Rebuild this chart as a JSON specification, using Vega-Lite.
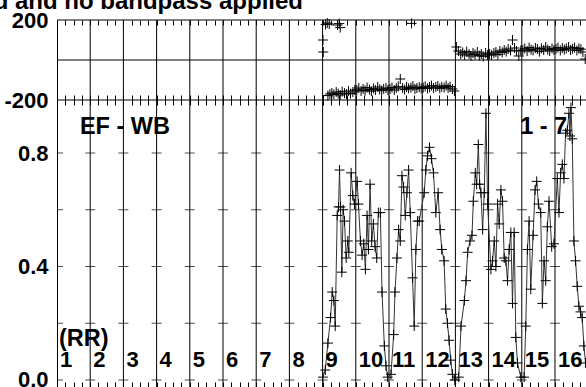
{
"$schema": "https://vega.github.io/schema/vega-lite/v6.json",
"width": 529, "height": 367,
"autosize": {"type": "none"},
"padding": {"left": 57, "top": 20, "right": 0, "bottom": 0},
"background": "white",
"config": {"view": {"stroke": null}, "font": "Liberation Sans",
  "axis": {"labelFont": "Liberation Sans", "labelFontWeight": "bold", "labelFontSize": 22, "labelColor": "black", "domainColor": "black", "domainWidth": 1, "tickColor": "black", "tickWidth": 1, "grid": false, "labelOverlap": false}},
"datasets": {
  "amp": [
    {"x":9.01,"a":0.01},{"x":9.08,"a":0.035},{"x":9.16,"a":0.13},{"x":9.24,"a":0.22},{"x":9.29,"a":0.31},{"x":9.34,"a":0.28},{"x":9.38,"a":0.19},{"x":9.44,"a":0.58},{"x":9.48,"a":0.61},{"x":9.51,"a":0.74},{"x":9.54,"a":0.61},{"x":9.58,"a":0.38},{"x":9.62,"a":0.60},{"x":9.66,"a":0.56},{"x":9.71,"a":0.43},{"x":9.76,"a":0.49},{"x":9.79,"a":0.45},{"x":9.86,"a":0.73},{"x":9.91,"a":0.65},{"x":9.96,"a":0.62},
    {"x":10.04,"a":0.70},{"x":10.08,"a":0.62},{"x":10.14,"a":0.49},{"x":10.19,"a":0.44},{"x":10.24,"a":0.48},{"x":10.29,"a":0.39},{"x":10.34,"a":0.58},{"x":10.38,"a":0.46},{"x":10.43,"a":0.69},{"x":10.48,"a":0.49},{"x":10.53,"a":0.55},{"x":10.58,"a":0.47},{"x":10.63,"a":0.43},{"x":10.68,"a":0.59},{"x":10.74,"a":0.59},{"x":10.79,"a":0.31},{"x":10.86,"a":0.12},{"x":10.91,"a":0.05},{"x":10.96,"a":0.01},
    {"x":11.06,"a":0.02},{"x":11.14,"a":0.16},{"x":11.18,"a":0.31},{"x":11.24,"a":0.43},{"x":11.29,"a":0.53},{"x":11.34,"a":0.49},{"x":11.39,"a":0.72},{"x":11.44,"a":0.68},{"x":11.49,"a":0.58},{"x":11.54,"a":0.66},{"x":11.59,"a":0.74},{"x":11.64,"a":0.59},{"x":11.71,"a":0.36},{"x":11.76,"a":0.19},{"x":11.81,"a":0.46},{"x":11.86,"a":0.56},{"x":11.91,"a":0.56},
    {"x":12.06,"a":0.66},{"x":12.11,"a":0.74},{"x":12.16,"a":0.79},{"x":12.22,"a":0.82},{"x":12.28,"a":0.78},{"x":12.34,"a":0.73},{"x":12.41,"a":0.59},{"x":12.48,"a":0.66},{"x":12.54,"a":0.53},{"x":12.59,"a":0.46},{"x":12.66,"a":0.42},{"x":12.71,"a":0.25},{"x":12.76,"a":0.20},{"x":12.81,"a":0.14},{"x":12.86,"a":0.07},{"x":12.91,"a":0.02},{"x":12.98,"a":0.0},
    {"x":13.10,"a":0.01},{"x":13.17,"a":0.19},{"x":13.27,"a":0.28},{"x":13.32,"a":0.35},{"x":13.37,"a":0.45},{"x":13.44,"a":0.49},{"x":13.50,"a":0.51},{"x":13.54,"a":0.63},{"x":13.60,"a":0.73},{"x":13.64,"a":0.69},{"x":13.69,"a":0.83},{"x":13.73,"a":0.69},{"x":13.77,"a":0.66},{"x":13.82,"a":0.53},{"x":13.87,"a":0.66},{"x":13.92,"a":0.94},{"x":13.97,"a":0.62},
    {"x":14.07,"a":0.39},{"x":14.12,"a":0.42},{"x":14.17,"a":0.49},{"x":14.22,"a":0.40},{"x":14.27,"a":0.62},{"x":14.32,"a":0.55},{"x":14.37,"a":0.67},{"x":14.42,"a":0.63},{"x":14.47,"a":0.43},{"x":14.52,"a":0.42},{"x":14.57,"a":0.35},{"x":14.62,"a":0.46},{"x":14.67,"a":0.52},{"x":14.72,"a":0.27},{"x":14.77,"a":0.52},{"x":14.82,"a":0.15},{"x":14.87,"a":0.06},{"x":14.97,"a":0.01},
    {"x":15.07,"a":0.01},{"x":15.12,"a":0.19},{"x":15.17,"a":0.46},{"x":15.22,"a":0.56},{"x":15.27,"a":0.32},{"x":15.34,"a":0.51},{"x":15.40,"a":0.67},{"x":15.45,"a":0.70},{"x":15.50,"a":0.62},{"x":15.57,"a":0.59},{"x":15.62,"a":0.27},{"x":15.67,"a":0.42},{"x":15.72,"a":0.35},{"x":15.77,"a":0.54},{"x":15.82,"a":0.63},{"x":15.90,"a":0.47},{"x":15.97,"a":0.48},
    {"x":16.07,"a":0.71},{"x":16.12,"a":0.59},{"x":16.17,"a":0.73},{"x":16.22,"a":0.76},{"x":16.27,"a":0.71},{"x":16.32,"a":0.87},{"x":16.37,"a":0.88},{"x":16.42,"a":0.94},{"x":16.45,"a":0.86},{"x":16.48,"a":0.96},{"x":16.52,"a":0.85},{"x":16.57,"a":0.49},{"x":16.62,"a":0.42},{"x":16.67,"a":0.33},{"x":16.72,"a":0.26},{"x":16.77,"a":0.24},{"x":16.82,"a":0.22},{"x":16.87,"a":0.12},{"x":16.92,"a":0.06}
  ],
  "phase": [
    {"x":9.01,"p":100},{"x":9.02,"p":40},{"x":9.09,"p":178},{"x":9.14,"p":185},{"x":9.2,"p":180},{"x":9.45,"p":175},{"x":9.5,"p":182},{"x":9.53,"p":162},{"x":11.68,"p":183},
    {"x":9.16,"p":-178},{"x":9.22,"p":-170},{"x":9.28,"p":-165},{"x":9.34,"p":-172},{"x":9.41,"p":-160},{"x":9.47,"p":-168},{"x":9.53,"p":-175},{"x":9.59,"p":-158},{"x":9.66,"p":-166},{"x":9.72,"p":-170},{"x":9.78,"p":-155},{"x":9.84,"p":-168},{"x":9.91,"p":-160},{"x":9.97,"p":-150},
    {"x":10.03,"p":-150},{"x":10.09,"p":-140},{"x":10.16,"p":-155},{"x":10.22,"p":-145},{"x":10.28,"p":-152},{"x":10.34,"p":-138},{"x":10.41,"p":-148},{"x":10.47,"p":-156},{"x":10.53,"p":-142},{"x":10.59,"p":-150},{"x":10.66,"p":-135},{"x":10.72,"p":-147},{"x":10.78,"p":-153},{"x":10.84,"p":-144},{"x":10.91,"p":-140},{"x":10.97,"p":-150},
    {"x":11.03,"p":-145},{"x":11.09,"p":-138},{"x":11.16,"p":-150},{"x":11.22,"p":-140},{"x":11.28,"p":-132},{"x":11.34,"p":-95},{"x":11.41,"p":-140},{"x":11.47,"p":-148},{"x":11.53,"p":-135},{"x":11.59,"p":-142},{"x":11.66,"p":-138},{"x":11.72,"p":-130},{"x":11.78,"p":-145},{"x":11.84,"p":-140},{"x":11.91,"p":-136},{"x":11.97,"p":-142},
    {"x":12.03,"p":-138},{"x":12.09,"p":-132},{"x":12.16,"p":-142},{"x":12.22,"p":-136},{"x":12.28,"p":-128},{"x":12.34,"p":-140},{"x":12.41,"p":-135},{"x":12.47,"p":-130},{"x":12.53,"p":-142},{"x":12.59,"p":-134},{"x":12.66,"p":-138},{"x":12.72,"p":-128},{"x":12.78,"p":-140},{"x":12.84,"p":-133},{"x":12.91,"p":-145},{"x":12.97,"p":-155},
    {"x":13.03,"p":65},{"x":13.09,"p":45},{"x":13.16,"p":30},{"x":13.22,"p":38},{"x":13.28,"p":25},{"x":13.34,"p":42},{"x":13.41,"p":30},{"x":13.47,"p":20},{"x":13.53,"p":35},{"x":13.59,"p":28},{"x":13.66,"p":40},{"x":13.72,"p":22},{"x":13.78,"p":30},{"x":13.84,"p":18},{"x":13.91,"p":35},{"x":13.97,"p":25},
    {"x":14.03,"p":30},{"x":14.09,"p":25},{"x":14.16,"p":35},{"x":14.22,"p":40},{"x":14.28,"p":28},{"x":14.34,"p":45},{"x":14.41,"p":38},{"x":14.47,"p":50},{"x":14.53,"p":42},{"x":14.59,"p":55},{"x":14.66,"p":48},{"x":14.72,"p":100},{"x":14.78,"p":60},{"x":14.84,"p":45},{"x":14.91,"p":20},{"x":14.97,"p":48},
    {"x":15.03,"p":50},{"x":15.09,"p":58},{"x":15.16,"p":45},{"x":15.22,"p":62},{"x":15.28,"p":52},{"x":15.34,"p":48},{"x":15.41,"p":60},{"x":15.47,"p":55},{"x":15.53,"p":42},{"x":15.59,"p":58},{"x":15.66,"p":50},{"x":15.72,"p":65},{"x":15.78,"p":52},{"x":15.84,"p":45},{"x":15.91,"p":58},{"x":15.97,"p":50},
    {"x":16.03,"p":55},{"x":16.09,"p":62},{"x":16.16,"p":48},{"x":16.22,"p":60},{"x":16.28,"p":52},{"x":16.34,"p":58},{"x":16.41,"p":65},{"x":16.47,"p":50},{"x":16.53,"p":56},{"x":16.59,"p":62},{"x":16.66,"p":48},{"x":16.72,"p":58},{"x":16.78,"p":54},{"x":16.84,"p":40},{"x":16.91,"p":5}
  ],
  "levels": [
    {"v":0,"b":[2,3,4,5,6,7,8,9,10,11,12,13,14,15,16]},
    {"v":0.2,"b":[2,3,4,5,6,7,8,9,10,11,12,13,14,15,16]},
    {"v":0.4,"b":[2,3,4,5,6,7,8,9,10,11,12,13,14,15,16]},
    {"v":0.6,"b":[2,3,4,5,6,7,8,9,10,11,12,13,14,15,16]},
    {"v":0.8,"b":[2,3,4,5,6,7,8,9,10,11,12,13,14,15,16]}
  ],
  "ifs": [{"n":1},{"n":2},{"n":3},{"n":4},{"n":5},{"n":6},{"n":7},{"n":8},{"n":9},{"n":10},{"n":11},{"n":12},{"n":13},{"n":14},{"n":15},{"n":16}]
},
"layer": [
  {
    "data": {"values": [{"p":200},{"p":0},{"p":-200}]},
    "mark": {"type": "rule", "color": "black", "strokeWidth": 1},
    "encoding": {
      "y": {"field": "p", "type": "quantitative", "scale": {"domain": [-200, 200], "range": [80, 0], "nice": false, "zero": false},
            "axis": {"orient": "left", "values": [-200, 200], "labelExpr": "datum.value < 0 ? '-200' : '200'", "ticks": false, "domain": true, "labelPadding": 9, "title": null}}
    }
  },
  {
    "data": {"name": "ifs"},
    "transform": [{"filter": "datum.n > 1"}],
    "mark": {"type": "rule", "color": "black", "strokeWidth": 1},
    "encoding": {
      "x": {"field": "n", "type": "quantitative", "scale": {"domain": [1, 16.934], "nice": false, "zero": false},
            "axis": {"orient": "top", "offset": -5, "tickSize": 5, "labels": false, "domain": false, "title": null,
                     "values": [1,1.25,1.5,1.75,2,2.25,2.5,2.75,3,3.25,3.5,3.75,4,4.25,4.5,4.75,5,5.25,5.5,5.75,6,6.25,6.5,6.75,7,7.25,7.5,7.75,8,8.25,8.5,8.75,9,9.25,9.5,9.75,10,10.25,10.5,10.75,11,11.25,11.5,11.75,12,12.25,12.5,12.75,13,13.25,13.5,13.75,14,14.25,14.5,14.75,15,15.25,15.5,15.75,16,16.25,16.5,16.75]}}
    }
  },
  {
    "data": {"name": "levels"},
    "transform": [{"flatten": ["b"]}],
    "mark": {"type": "tick", "orient": "horizontal", "size": 10, "thickness": 1, "color": "black"},
    "encoding": {
      "x": {"field": "b", "type": "quantitative", "scale": {"domain": [1, 16.934], "nice": false, "zero": false},
            "axis": {"orient": "bottom", "offset": -292, "tickSize": 10, "labels": false, "domain": false, "title": null,
                     "values": [1,1.25,1.5,1.75,2,2.25,2.5,2.75,3,3.25,3.5,3.75,4,4.25,4.5,4.75,5,5.25,5.5,5.75,6,6.25,6.5,6.75,7,7.25,7.5,7.75,8,8.25,8.5,8.75,9,9.25,9.5,9.75,10,10.25,10.5,10.75,11,11.25,11.5,11.75,12,12.25,12.5,12.75,13,13.25,13.5,13.75,14,14.25,14.5,14.75,15,15.25,15.5,15.75,16,16.25,16.5,16.75]}},
      "y": {"field": "v", "type": "quantitative", "scale": {"domain": [-0.0247, 0.9868], "range": [367, 80], "nice": false, "zero": false},
            "axis": {"orient": "left", "values": [0, 0.4, 0.8], "format": ".1f", "ticks": false, "domain": true, "labelPadding": 9, "title": null}}
    }
  },
  {
    "data": {"name": "levels"},
    "mark": {"type": "tick", "orient": "horizontal", "size": 6, "thickness": 1, "color": "black", "xOffset": 3},
    "encoding": {
      "x": {"datum": 1, "type": "quantitative", "scale": {"domain": [1, 16.934], "nice": false, "zero": false}, "axis": null},
      "y": {"field": "v", "type": "quantitative", "scale": {"domain": [-0.0247, 0.9868], "range": [367, 80], "nice": false, "zero": false}, "axis": null}
    }
  },
  {
    "data": {"name": "amp"},
    "mark": {"type": "line", "color": "#333333", "strokeWidth": 1},
    "encoding": {
      "x": {"field": "x", "type": "quantitative", "scale": {"domain": [1, 16.934], "nice": false, "zero": false},
            "axis": {"orient": "bottom", "offset": -5, "tickSize": 5, "labels": false, "domain": false, "title": null,
                     "values": [1,1.25,1.5,1.75,2,2.25,2.5,2.75,3,3.25,3.5,3.75,4,4.25,4.5,4.75,5,5.25,5.5,5.75,6,6.25,6.5,6.75,7,7.25,7.5,7.75,8,8.25,8.5,8.75,9,9.25,9.5,9.75,10,10.25,10.5,10.75,11,11.25,11.5,11.75,12,12.25,12.5,12.75,13,13.25,13.5,13.75,14,14.25,14.5,14.75,15,15.25,15.5,15.75,16,16.25,16.5,16.75]}},
      "y": {"field": "a", "type": "quantitative", "scale": {"domain": [-0.0247, 0.9868], "range": [367, 80], "nice": false, "zero": false}, "axis": null}
    }
  },
  {
    "data": {"name": "amp"},
    "mark": {"type": "point", "shape": "M-1,0H1M0,-1V1", "size": 100, "filled": false, "stroke": "black", "strokeWidth": 1, "opacity": 1},
    "encoding": {
      "x": {"field": "x", "type": "quantitative", "scale": {"domain": [1, 16.934], "nice": false, "zero": false}, "axis": null},
      "y": {"field": "a", "type": "quantitative", "scale": {"domain": [-0.0247, 0.9868], "range": [367, 80], "nice": false, "zero": false}, "axis": null}
    }
  },
  {
    "data": {"name": "phase"},
    "mark": {"type": "point", "shape": "M-1,0H1M0,-1V1", "size": 100, "filled": false, "stroke": "black", "strokeWidth": 1, "opacity": 1},
    "encoding": {
      "x": {"field": "x", "type": "quantitative", "scale": {"domain": [1, 16.934], "nice": false, "zero": false}, "axis": null},
      "y": {"field": "p", "type": "quantitative", "scale": {"domain": [-200, 200], "range": [80, 0], "nice": false, "zero": false}, "axis": null}
    }
  },
  {
    "data": {"name": "ifs"},
    "mark": {"type": "text", "align": "left", "baseline": "alphabetic", "fontSize": 22, "fontWeight": "bold", "font": "Liberation Sans", "color": "black", "dx": 3},
    "encoding": {
      "x": {"field": "n", "type": "quantitative", "scale": {"domain": [1, 16.934], "nice": false, "zero": false}, "axis": null},
      "y": {"datum": 0.046, "type": "quantitative", "scale": {"domain": [-0.0247, 0.9868], "range": [367, 80], "nice": false, "zero": false}, "axis": null},
      "text": {"field": "n", "type": "nominal"}
    }
  },
  {
    "data": {"values": [{"t": "(RR)", "x": 1, "a": 0.12}, {"t": "EF - WB", "x": 1.63, "a": 0.867}, {"t": "1 - 7", "x": 14.89, "a": 0.867}]},
    "mark": {"type": "text", "align": "left", "baseline": "alphabetic", "fontSize": 23.5, "fontWeight": "bold", "font": "Liberation Sans", "color": "black", "dx": 2},
    "encoding": {
      "x": {"field": "x", "type": "quantitative", "scale": {"domain": [1, 16.934], "nice": false, "zero": false}, "axis": null},
      "y": {"field": "a", "type": "quantitative", "scale": {"domain": [-0.0247, 0.9868], "range": [367, 80], "nice": false, "zero": false}, "axis": null},
      "text": {"field": "t", "type": "nominal"}
    }
  },
  {
    "data": {"values": [{"t": "d and no bandpass applied", "x": 8.41, "p": 257.5}]},
    "mark": {"type": "text", "align": "right", "baseline": "alphabetic", "fontSize": 24, "fontWeight": "bold", "font": "Liberation Sans", "color": "black"},
    "encoding": {
      "x": {"field": "x", "type": "quantitative", "scale": {"domain": [1, 16.934], "nice": false, "zero": false}, "axis": null},
      "y": {"field": "p", "type": "quantitative", "scale": {"domain": [-200, 200], "range": [80, 0], "nice": false, "zero": false}, "axis": null},
      "text": {"field": "t", "type": "nominal"}
    }
  }
],
"resolve": {"scale": {"y": "independent"}, "axis": {"x": "independent", "y": "independent"}}
}
